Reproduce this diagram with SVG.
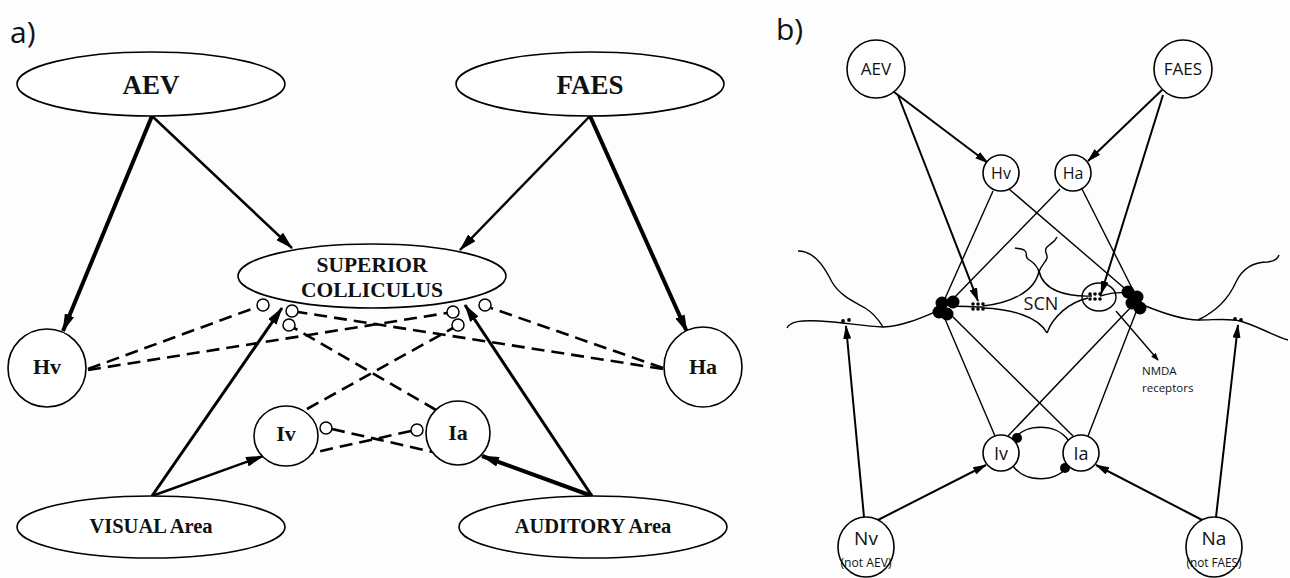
<svg xmlns="http://www.w3.org/2000/svg" width="1290" height="578" viewBox="0 0 1290 578">
  <defs>
    <style>
      .bg { fill: #fdfdfd; }
      .node { fill: #ffffff; stroke: #000; stroke-width: 1.6; }
      .ta { font-family: "Liberation Serif", "Times New Roman", serif; font-weight: bold; fill: #111; text-anchor: middle; }
      .tb { font-family: "Open Sans", "Noto Sans", sans-serif; fill: #111; text-anchor: middle; }
      .tl { font-family: "Open Sans", "Noto Sans", sans-serif; fill: #111; }
      .panel { font-family: "Open Sans", "Noto Sans", sans-serif; font-size: 30px; fill: #111; }
      .solid { fill: none; stroke: #000; stroke-linecap: butt; }
      .dash { fill: none; stroke: #000; stroke-width: 2.6; stroke-dasharray: 13 7; }
      .thin { fill: none; stroke: #000; stroke-width: 1.4; }
      .syn { fill: #fff; stroke: #000; stroke-width: 1.5; }
      .blob { fill: #000; }
    </style>
    <marker id="headA" viewBox="0 0 18 10" refX="17" refY="5" markerWidth="18" markerHeight="10" orient="auto" markerUnits="userSpaceOnUse">
      <path d="M0,0 L18,5 L0,10 z" fill="#000"/>
    </marker>
    <marker id="headB" viewBox="0 0 14 8" refX="13" refY="4" markerWidth="14" markerHeight="8" orient="auto" markerUnits="userSpaceOnUse">
      <path d="M0,0 L14,4 L0,8 z" fill="#000"/>
    </marker>
    <marker id="headS" viewBox="0 0 8 6" refX="7" refY="3" markerWidth="8" markerHeight="6" orient="auto" markerUnits="userSpaceOnUse">
      <path d="M0,0 L8,3 L0,6 z" fill="#000"/>
    </marker>
    <g id="dots">
      <circle cx="0" cy="0" r="1.8"/><circle cx="0" cy="5" r="1.8"/>
      <circle cx="5" cy="0" r="1.8"/><circle cx="5" cy="5" r="1.8"/>
      <circle cx="10" cy="0" r="1.8"/><circle cx="10" cy="5" r="1.8"/>
    </g>
  </defs>

  <rect class="bg" x="0" y="0" width="1290" height="578"/>

  <!-- ===== panel a ===== -->
  <text class="panel" x="10" y="43">a)</text>

  <g id="a-connectors">
    <!-- excitatory (solid) projections -->
    <line class="solid" stroke-width="4" x1="152" y1="116" x2="63" y2="331" marker-end="url(#headA)"/>
    <line class="solid" stroke-width="2.5" x1="152" y1="116" x2="292" y2="248" marker-end="url(#headA)"/>
    <line class="solid" stroke-width="2.5" x1="590" y1="116" x2="460" y2="250" marker-end="url(#headA)"/>
    <line class="solid" stroke-width="4" x1="590" y1="116" x2="687" y2="332" marker-end="url(#headA)"/>
    <line class="solid" stroke-width="3" x1="152" y1="496" x2="282" y2="308" marker-end="url(#headA)"/>
    <line class="solid" stroke-width="2.5" x1="152" y1="496" x2="263" y2="456" marker-end="url(#headA)"/>
    <line class="solid" stroke-width="3" x1="592" y1="496" x2="465" y2="305" marker-end="url(#headA)"/>
    <line class="solid" stroke-width="4" x1="592" y1="496" x2="482" y2="456" marker-end="url(#headA)"/>

    <!-- inhibitory (dashed) projections -->
    <line class="dash" x1="88" y1="369" x2="257" y2="307"/>
    <line class="dash" x1="88" y1="370" x2="447" y2="313"/>
    <line class="dash" x1="663" y1="369" x2="298" y2="312"/>
    <line class="dash" x1="663" y1="368" x2="491" y2="308"/>
    <line class="dash" x1="436" y1="410" x2="294" y2="328"/>
    <line class="dash" x1="307" y1="409" x2="453" y2="328"/>
    <line class="dash" x1="332" y1="429" x2="433" y2="452"/>
    <line class="dash" x1="411" y1="431" x2="312" y2="453"/>

    <!-- inhibitory terminals -->
    <circle class="syn" cx="263" cy="305" r="6"/>
    <circle class="syn" cx="292" cy="311" r="6"/>
    <circle class="syn" cx="289" cy="325" r="6"/>
    <circle class="syn" cx="453" cy="312" r="6"/>
    <circle class="syn" cx="458" cy="325" r="6"/>
    <circle class="syn" cx="485" cy="305" r="6"/>
    <circle class="syn" cx="326" cy="428" r="6"/>
    <circle class="syn" cx="417" cy="430" r="6"/>
  </g>

  <g id="a-AEV">
    <ellipse class="node" cx="151" cy="84" rx="134" ry="32"/>
    <text class="ta" x="151" y="94" font-size="27">AEV</text>
  </g>
  <g id="a-FAES">
    <ellipse class="node" cx="590" cy="84" rx="134" ry="32"/>
    <text class="ta" x="590" y="94" font-size="27">FAES</text>
  </g>
  <g id="a-SC">
    <ellipse class="node" cx="372" cy="276" rx="134" ry="32"/>
    <text class="ta" x="372" y="272" font-size="21.5">SUPERIOR</text>
    <text class="ta" x="372" y="297" font-size="21.5">COLLICULUS</text>
  </g>
  <g id="a-Hv">
    <ellipse class="node" cx="47" cy="368" rx="39" ry="39"/>
    <text class="ta" x="47" y="374" font-size="22">Hv</text>
  </g>
  <g id="a-Ha">
    <ellipse class="node" cx="703" cy="367" rx="39" ry="40"/>
    <text class="ta" x="703" y="374" font-size="22">Ha</text>
  </g>
  <g id="a-Iv">
    <ellipse class="node" cx="286" cy="436" rx="32" ry="30"/>
    <text class="ta" x="286" y="441" font-size="22">Iv</text>
  </g>
  <g id="a-Ia">
    <ellipse class="node" cx="458" cy="433" rx="32" ry="32"/>
    <text class="ta" x="458" y="440" font-size="22">Ia</text>
  </g>
  <g id="a-VISUAL">
    <ellipse class="node" cx="151" cy="527" rx="134" ry="31"/>
    <text class="ta" x="151" y="533" font-size="20.5">VISUAL Area</text>
  </g>
  <g id="a-AUDITORY">
    <ellipse class="node" cx="593" cy="527" rx="134" ry="31"/>
    <text class="ta" x="593" y="533" font-size="20.5">AUDITORY Area</text>
  </g>

  <!-- ===== panel b ===== -->
  <text class="panel" x="776" y="40">b)</text>

  <g id="b-membrane">
    <!-- dendritic membrane, SCN outline and branches -->
    <path class="thin" d="M787,328 C790,322 798,320 820,321 C842,322 862,326 883,327 C905,326 925,316 942,309"/>
    <path class="thin" d="M798,251 C812,251 822,262 832,282 C840,296 855,302 865,308 C875,314 880,322 883,327"/>
    <path class="thin" d="M950,306 C962,306 972,307 983,307"/>
    <path class="thin" d="M983,306 C1010,303 1035,292 1039,271"/>
    <path class="thin" d="M983,308 C1010,309 1038,316 1047,333"/>
    <path class="thin" d="M1039,271 C1043,290 1065,297 1092,296"/>
    <path class="thin" d="M1047,333 C1053,316 1070,302 1088,298"/>
    <path class="thin" d="M1100,296 C1110,293 1120,292 1128,293"/>
    <path class="thin" d="M1039,272 C1037,264 1032,262 1028,259 C1024,256 1029,253 1024,250 C1020,248 1018,249 1015,248"/>
    <path class="thin" d="M1039,272 C1041,265 1046,262 1047,258 C1048,254 1043,251 1047,247 C1051,243 1055,242 1057,237"/>
    <path class="thin" d="M1143,305 C1165,314 1185,320 1198,320 C1215,320 1230,318 1240,321 C1255,325 1270,334 1288,340"/>
    <path class="thin" d="M1198,320 C1215,312 1228,300 1236,282 C1244,265 1258,262 1268,262 C1275,261 1278,258 1279,255"/>
    <ellipse class="thin" cx="1099" cy="297" rx="17" ry="14"/>
  </g>

  <g id="b-connectors">
    <!-- H and I projections onto the SCN -->
    <line class="thin" x1="993" y1="191" x2="943" y2="303"/>
    <line class="thin" x1="1009" y1="189" x2="1130" y2="293"/>
    <line class="thin" x1="1060" y1="189" x2="951" y2="301"/>
    <line class="thin" x1="1082" y1="189" x2="1137" y2="298"/>
    <line class="thin" x1="942" y1="312" x2="995" y2="436"/>
    <line class="thin" x1="948" y1="312" x2="1073" y2="436"/>
    <line class="thin" x1="1133" y1="305" x2="1008" y2="436"/>
    <line class="thin" x1="1138" y1="307" x2="1088" y2="436"/>

    <!-- cortical inputs -->
    <line class="solid" stroke-width="2" x1="894" y1="92" x2="988" y2="163" marker-end="url(#headB)"/>
    <line class="solid" stroke-width="2" x1="898" y1="95" x2="978" y2="301" marker-end="url(#headB)"/>
    <line class="solid" stroke-width="2" x1="1162" y1="90" x2="1088" y2="161" marker-end="url(#headB)"/>
    <line class="solid" stroke-width="2" x1="1163" y1="95" x2="1101" y2="294" marker-end="url(#headB)"/>

    <!-- non-cortical inputs -->
    <line class="solid" stroke-width="2" x1="864" y1="517" x2="846" y2="326" marker-end="url(#headB)"/>
    <line class="solid" stroke-width="2" x1="1216" y1="517" x2="1238" y2="325" marker-end="url(#headB)"/>
    <line class="solid" stroke-width="2" x1="874" y1="522" x2="986" y2="465" marker-end="url(#headB)"/>
    <line class="solid" stroke-width="2" x1="1206" y1="522" x2="1096" y2="465" marker-end="url(#headB)"/>

    <!-- mutual Iv / Ia loop -->
    <path class="thin" d="M1013,440 C1025,423 1056,423 1068,440"/>
    <path class="thin" d="M1013,466 C1025,483 1056,483 1068,466"/>
    <circle class="blob" cx="1017" cy="438" r="5"/>
    <circle class="blob" cx="1065" cy="468" r="5"/>

    <!-- NMDA pointer -->
    <line class="thin" stroke-width="1" x1="1116" y1="311" x2="1158" y2="360" marker-end="url(#headS)"/>
  </g>

  <g id="b-synapses">
    <g class="blob">
      <circle cx="942" cy="303" r="6.5"/><circle cx="953" cy="302" r="6.5"/>
      <circle cx="939" cy="312" r="6.5"/><circle cx="947" cy="314" r="6.5"/>
      <circle cx="1128" cy="292" r="6.5"/><circle cx="1137" cy="297" r="6.5"/>
      <circle cx="1132" cy="303" r="6.5"/><circle cx="1140" cy="308" r="6.5"/>
    </g>
    <use href="#dots" x="973" y="304"/>
    <use href="#dots" x="1090" y="294"/>
    <circle class="blob" cx="843" cy="321" r="1.9"/><circle class="blob" cx="849" cy="320" r="1.9"/>
    <circle class="blob" cx="1235" cy="319" r="1.9"/><circle class="blob" cx="1241" cy="320" r="1.9"/>
  </g>

  <g id="b-AEV">
    <circle class="node" cx="876" cy="69" r="29"/>
    <text class="tb" x="876" y="75" font-size="17">AEV</text>
  </g>
  <g id="b-FAES">
    <circle class="node" cx="1183" cy="69" r="29"/>
    <text class="tb" x="1183" y="75" font-size="17">FAES</text>
  </g>
  <g id="b-Hv">
    <circle class="node" cx="1001" cy="173" r="18"/>
    <text class="tb" x="1001" y="179" font-size="16">Hv</text>
  </g>
  <g id="b-Ha">
    <circle class="node" cx="1073" cy="173" r="18"/>
    <text class="tb" x="1073" y="179" font-size="16">Ha</text>
  </g>
  <g id="b-Iv">
    <circle class="node" cx="1001" cy="453" r="18"/>
    <text class="tb" x="1001" y="460" font-size="18">Iv</text>
  </g>
  <g id="b-Ia">
    <circle class="node" cx="1081" cy="453" r="18"/>
    <text class="tb" x="1081" y="460" font-size="18">Ia</text>
  </g>
  <g id="b-Nv">
    <ellipse class="node" cx="866" cy="547" rx="28" ry="30"/>
    <text class="tb" x="866" y="545" font-size="19">Nv</text>
    <text class="tb" x="866" y="567" font-size="12" textLength="51" lengthAdjust="spacingAndGlyphs">(not AEV)</text>
  </g>
  <g id="b-Na">
    <ellipse class="node" cx="1214" cy="547" rx="28" ry="30"/>
    <text class="tb" x="1214" y="545" font-size="19">Na</text>
    <text class="tb" x="1214" y="567" font-size="12" textLength="55" lengthAdjust="spacingAndGlyphs">(not FAES)</text>
  </g>
  <g id="b-labels">
    <text class="tb" x="1041" y="310" font-size="18">SCN</text>
    <text class="tl" x="1142" y="375" font-size="11.5">NMDA</text>
    <text class="tl" x="1142" y="392" font-size="11.5">receptors</text>
  </g>
</svg>
